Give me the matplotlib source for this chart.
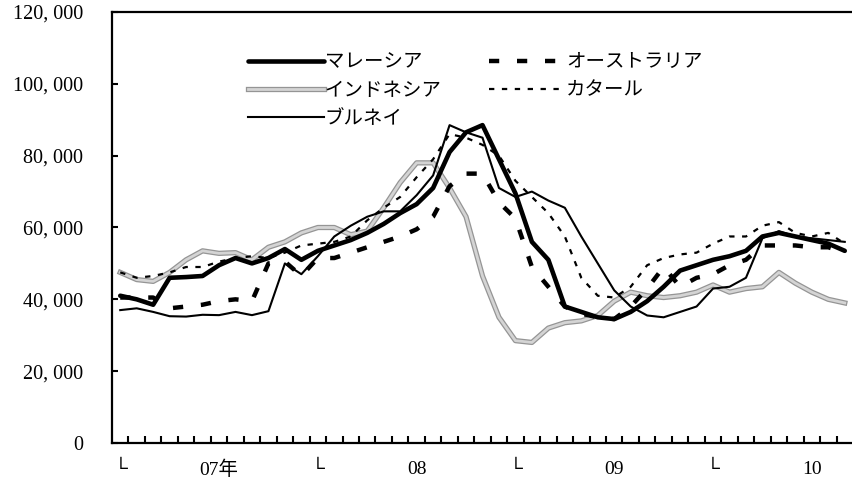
import numpy as np
import matplotlib
matplotlib.use("Agg")
import matplotlib.pyplot as plt
import matplotlib.patheffects as pe
from matplotlib.ticker import FuncFormatter, FixedLocator

plt.rcParams["font.family"] = ["Liberation Serif", "Noto Sans CJK JP", "DejaVu Sans"]

# 月次データ 2007年1月〜2010年9月
malaysia = [41000, 40000, 38500, 46000, 46200, 46500, 49500, 51500, 50000, 51500,
            54000, 51000, 53500, 55000, 56500, 58500, 61000, 64000, 66500, 71000,
            81000, 86500, 88500, 79000, 69500, 56000, 51000, 38000, 36500, 35000,
            34500, 36500, 39500, 43500, 48000, 49500, 51000, 52000, 53500, 57500,
            58500, 57500, 56500, 55500, 53500]
australia = [40500, 40500, 40500, 37500, 38000, 38500, 39500, 40000, 39500, 50000,
             50500, 46500, 51500, 51500, 53000, 54500, 56000, 57500, 59500, 63000,
             71500, 75000, 75000, 67000, 62500, 49000, 43500, 38000, 36000, 35000,
             34500, 38000, 43000, 49000, 43500, 46000, 47000, 49500, 51000, 55000,
             55000, 55000, 54500, 54500, 53000]
indonesia = [47500, 45500, 45000, 47500, 51000, 53500, 52800, 53000, 51000, 54500,
             56000, 58500, 60000, 60000, 58000, 59000, 65500, 72500, 78000, 78000,
             71000, 63000, 46500, 35000, 28500, 28000, 32000, 33500, 34000, 35500,
             39500, 42000, 41000, 40500, 41000, 42000, 44000, 42000, 43000, 43500,
             47500, 44500, 42000, 40000, 39000]
qatar = [47500, 46000, 46500, 47500, 49000, 49000, 50500, 51500, 52000, 51500,
         53000, 55000, 55500, 56000, 57500, 62000, 65500, 68500, 74000, 79000,
         86000, 85000, 83000, 80000, 73000, 68500, 64000, 57500, 46000, 41000,
         40500, 43500, 49500, 51500, 52500, 53000, 55500, 57500, 57500, 60500,
         61500, 58500, 57500, 58500, 55500]
brunei = [37000, 37500, 36500, 35300, 35200, 35700, 35600, 36500, 35600, 36700,
          50000, 47000, 52000, 57500, 60500, 63000, 64500, 64500, 69000, 74500,
          88500, 86500, 85000, 71000, 68500, 70000, 67500, 65500, 57500, 50000,
          42500, 38000, 35500, 35000, 36500, 38000, 43000, 43500, 46000, 57000,
          59000, 57500, 57000, 56500, 56000]

x_labels = ["└", "07年", "└", "08", "└", "09", "└", "10"]
x_label_pos = [0, 6, 12, 18, 24, 30, 36, 42]

x = np.arange(len(malaysia))

fig = plt.figure(figsize=(8.53, 4.79), dpi=100)
ax = fig.add_axes([112 / 853, 36 / 479, 741 / 853, 431 / 479])

l_ind, = ax.plot(x, indonesia, color="#d4d4d4", lw=2.0, label="インドネシア",
                 path_effects=[pe.Stroke(linewidth=3.8, foreground="#959595"), pe.Normal()])
l_qat, = ax.plot(x, qatar, color="black", lw=1.6, linestyle=(0, (2.4, 3.4)), label="カタール")
l_bru, = ax.plot(x, brunei, color="black", lw=1.5, label="ブルネイ")
l_aus, = ax.plot(x, australia, color="black", lw=3.2, linestyle=(0, (2.3, 4.0)), label="オーストラリア")
l_mal, = ax.plot(x, malaysia, color="black", lw=3.3, solid_capstyle="round", label="マレーシア")

ax.set_xlim(-0.5, len(x) - 0.5)
ax.set_ylim(0, 120000)
ax.set_yticks(np.arange(0, 120001, 20000))
ax.yaxis.set_major_formatter(FuncFormatter(lambda v, p: f"{int(v):,}".replace(",", ", ")))
ax.tick_params(axis="y", direction="in", length=4, width=1.5, pad=21, labelsize=14.5)

ax.set_xticks(x_label_pos)
ax.set_xticklabels(x_labels)
ax.xaxis.set_minor_locator(FixedLocator(np.arange(0.5, len(x) - 0.5, 1)))
ax.tick_params(axis="x", which="major", length=0, pad=13, labelsize=14)
ax.tick_params(axis="x", which="minor", direction="in", length=5, width=1.5)

for s in ["left", "bottom", "top"]:
    ax.spines[s].set_linewidth(1.6)
ax.spines["right"].set_visible(False)

ax.legend(handles=[l_mal, l_ind, l_bru, l_aus, l_qat], ncol=2, frameon=False,
          loc="upper left", bbox_to_anchor=(238 / 853, 1 - 44 / 479),
          bbox_transform=fig.transFigure, fontsize=14, handlelength=3.9,
          handletextpad=0.05, columnspacing=2.45, labelspacing=0.55, borderpad=0)

fig.savefig("out.png", dpi=100)
